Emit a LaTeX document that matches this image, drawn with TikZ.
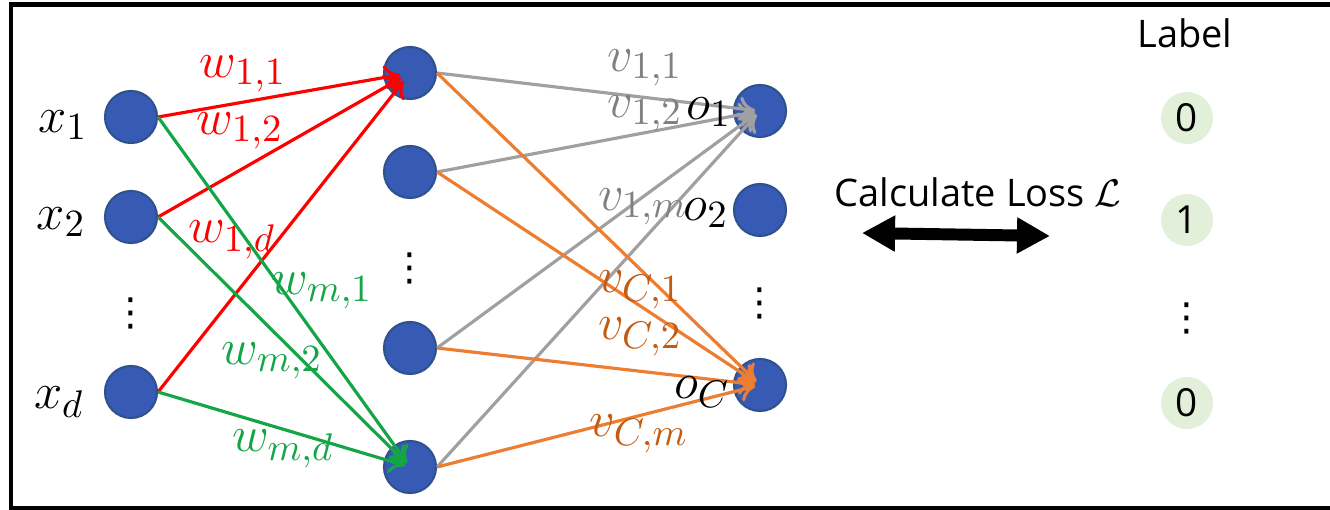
\documentclass[tikz,border=0pt]{standalone}
\usepackage{fontspec}
\setsansfont{Open Sans}
\newfontfamily\dotfont{DejaVu Sans}
\usepackage{tikz}
\usetikzlibrary{arrows.meta}
\definecolor{nodeblue}{RGB}{55,90,180}
\definecolor{nodeedge}{RGB}{47,82,143}
\definecolor{wred}{RGB}{255,0,0}
\definecolor{wgreen}{RGB}{20,165,70}
\definecolor{vgray}{RGB}{160,160,160}
\definecolor{vgraytext}{RGB}{128,128,128}
\definecolor{vorange}{RGB}{237,125,49}
\definecolor{vbrown}{RGB}{197,90,17}
\definecolor{labelgreen}{RGB}{226,240,217}

\begin{document}
\begin{tikzpicture}[x=0.01cm,y=-0.01cm,
  neuron/.style={circle,fill=nodeblue,draw=nodeedge,line width=0.6pt,minimum size=0.52cm,inner sep=0pt},
  target/.style={circle,fill=labelgreen,minimum size=0.52cm,inner sep=0pt,font=\sffamily\fontsize{11}{13}\selectfont},
  wire/.style={line width=0.9pt,-{To[length=1.6mm,width=2.4mm]}},
  lab/.style={font=\fontsize{15}{17}\selectfont,inner sep=0pt},
  sftext/.style={font=\sffamily\fontsize{10.8}{13}\selectfont,inner sep=0pt},
  vdotsnode/.style={font=\dotfont\fontsize{11}{13}\selectfont,inner sep=0pt}]
\useasboundingbox (0,0) rectangle (1330,510);

% frame
\draw[line width=1.4pt] (1340,4.5) -- (11,4.5) -- (11,508) -- (1340,508);

% input layer
\node[neuron] (x1) at (131,117) {};
\node[neuron] (x2) at (131,217) {};
\node[neuron] (xd) at (131,392) {};
\node[vdotsnode] (xdots) at (131,313) {⋮};
\node[lab] (lx1) at (63,125) {$x_1$};
\node[lab] (lx2) at (61,222) {$x_2$};
\node[lab] (lxd) at (59,402) {$x_d$};

% hidden layer
\node[neuron] (h1) at (410,73) {};
\node[neuron] (h2) at (410,172) {};
\node[neuron] (h3) at (410,348) {};
\node[neuron] (hm) at (410,467) {};
\node[vdotsnode] (hdots) at (410,268) {⋮};

% output layer
\node[neuron] (o1) at (760,111) {};
\node[neuron] (o2) at (760,210) {};
\node[neuron] (oC) at (760,385) {};
\node[vdotsnode] (odots) at (760,303) {⋮};

% weights w, red to h1
\foreach \src in {x1,x2,xd}
  \draw[wire,wred,shorten >=1mm] (\src.east) -- (h1.center);
% weights w, green to hm
\foreach \src in {x1,x2,xd}
  \draw[wire,wgreen,shorten >=0.5mm] (\src.east) -- (hm.center);
% weights v, gray to o1
\foreach \src in {h1,h2,h3,hm}
  \draw[wire,vgray,shorten >=0.5mm] (\src.east) -- (o1.center);
% weights v, orange to oC
\foreach \src in {h1,h2,h3,hm}
  \draw[wire,vorange,shorten >=0.5mm] (\src.east) -- (oC.center);

% w labels
\node[lab,wred] (w11) at (243,74) {$w_{1,1}$};
\node[lab,wred] (w12) at (240,131) {$w_{1,2}$};
\node[lab,wred] (w1d) at (232,240) {$w_{1,d}$};
\node[lab,wgreen] (wm1) at (322,291) {$w_{m,1}$};
\node[lab,wgreen] (wm2) at (272,361) {$w_{m,2}$};
\node[lab,wgreen] (wmd) at (283,449) {$w_{m,d}$};

% v labels
\node[lab,vgraytext] (v11) at (645,68) {$v_{1,1}$};
\node[lab,vgraytext] (v12) at (645,114) {$v_{1,2}$};
\node[lab,vgraytext] (v1m) at (643,207) {$v_{1,m}$};
\node[lab,vbrown] (vC1) at (640,290) {$v_{C,1}$};
\node[lab,vbrown] (vC2) at (640,337) {$v_{C,2}$};
\node[lab,vbrown] (vCm) at (639,434) {$v_{C,m}$};

% output names
\node[lab] (lo1) at (709,112) {$o_1$};
\node[lab] (lo2) at (706,213) {$o_2$};
\node[lab] (loC) at (702,392) {$o_C$};

% loss
\node[sftext] (loss) at (978,192) {Calculate Loss $\mathcal{L}$};
\coordinate (lossL) at (862,233);
\coordinate (lossR) at (1050,236);
\draw[line width=3.4pt,{Triangle[length=3.3mm,width=3.4mm]}-{Triangle[length=3.3mm,width=3.4mm]}] (lossL) -- (lossR);

% label column
\node[sftext] (ltitle) at (1185,33) {Label};
\node[target] (t1) at (1187,118) {0};
\node[target] (t2) at (1187,220) {1};
\node[vdotsnode] (tdots) at (1187,318) {⋮};
\node[target] (tC) at (1187,403) {0};

\end{tikzpicture}
\end{document}
